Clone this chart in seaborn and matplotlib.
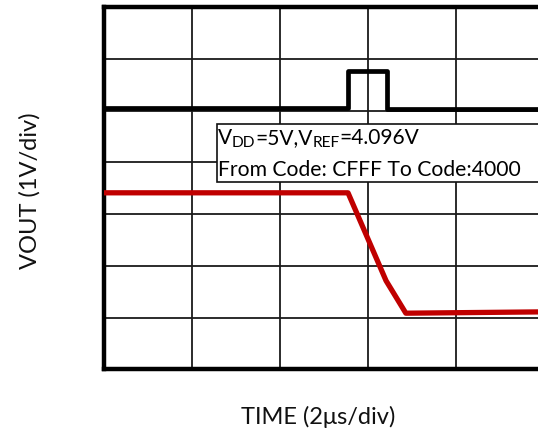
import matplotlib
matplotlib.use("Agg")
import matplotlib.pyplot as plt
import seaborn as sns
import pandas as pd
from matplotlib.patches import Rectangle
from matplotlib.transforms import offset_copy

# ---- data (time in divisions, voltage in divisions) ----
trig_time = [0.0, 2.776, 2.776, 3.219, 3.219, 5.0]
trig_volt = [5.045, 5.045, 5.763, 5.763, 5.03, 5.03]

vout_time = [0.0, 2.773, 3.205, 3.43, 5.0]
vout_volt = [3.41, 3.41, 1.712, 1.084, 1.11]

x_divs = 5
y_divs = 7
x_label = "TIME (2μs/div)"
y_label = "VOUT (1V/div)"
note_line1 = [("V", False), ("DD", True), ("=5V,V", False), ("REF", True), ("=4.096V", False)]
note_line2 = "From Code: CFFF To Code:4000"

sns.set_theme(style="white")
plt.rcParams["font.family"] = ["Lato", "DejaVu Sans"]

W, H = 538, 439
fig = plt.figure(figsize=(W / 100, H / 100), dpi=100)
left, right, top, bottom = 104, 544, 8, 370.3
ax = fig.add_axes([left / W, 1 - bottom / H, (right - left) / W, (bottom - top) / H])

df_trig = pd.DataFrame({"t": trig_time, "v": trig_volt})
df_out = pd.DataFrame({"t": vout_time, "v": vout_volt})

sns.lineplot(data=df_trig, x="t", y="v", ax=ax, sort=False, estimator=None,
             color="black", linewidth=3.4, zorder=5)
sns.lineplot(data=df_out, x="t", y="v", ax=ax, sort=False, estimator=None,
             color="#C00000", linewidth=3.8, zorder=5)

ax.set_xlim(0, x_divs)
ax.set_ylim(0, y_divs)
ax.set_xticks(range(0, x_divs + 1))
ax.set_yticks(range(0, y_divs + 1))
ax.tick_params(length=0, labelbottom=False, labelleft=False)
ax.grid(True, color="#1a1a1a", linewidth=1.3)
ax.set_axisbelow(True)
ax.set_xlabel("")
ax.set_ylabel("")
for s in ax.spines.values():
    s.set_visible(True)
    s.set_color("black")
    s.set_linewidth(3.2)

# annotation box
xdiv = (right - left) / x_divs
ydiv = (bottom - top) / y_divs
def px2d(px, py):
    return (px - left) / xdiv, (bottom - py) / ydiv

bx0, by_top = px2d(217, 125)
_, by_bot = px2d(217, 183)
ax.add_patch(Rectangle((bx0, by_bot), 6 - bx0, by_top - by_bot, facecolor="white",
                       edgecolor="#111111", linewidth=1.2, zorder=4, clip_on=False))
tx, ty1 = px2d(217.5, 144)
_, ty2 = px2d(218.5, 175.5)

fig.canvas.draw()
renderer = fig.canvas.get_renderer()
dx = 0.0
main_fs = 15.0
sub_fs = 11.2
for txt, is_sub in note_line1:
    trans = offset_copy(ax.transData, fig=fig, x=dx * 72 / 100,
                        y=(-2.5 if is_sub else 0) * 72 / 100, units="points")
    t = ax.text(tx, ty1, txt, fontsize=sub_fs if is_sub else main_fs, va="baseline",
                ha="left", zorder=6, color="black", transform=trans)
    bb = t.get_window_extent(renderer=renderer)
    dx += bb.width
ax.text(tx, ty2, note_line2, fontsize=15.2, va="baseline", ha="left", zorder=6, color="black")

fig.text(318 / W, 1 - 417 / H, x_label, fontsize=17, ha="center", va="center", color="#111111")
fig.text(30 / W, 1 - 191 / H, y_label, fontsize=17, ha="center", va="center",
         rotation=90, color="#111111")

fig.savefig("out.png", dpi=100)
